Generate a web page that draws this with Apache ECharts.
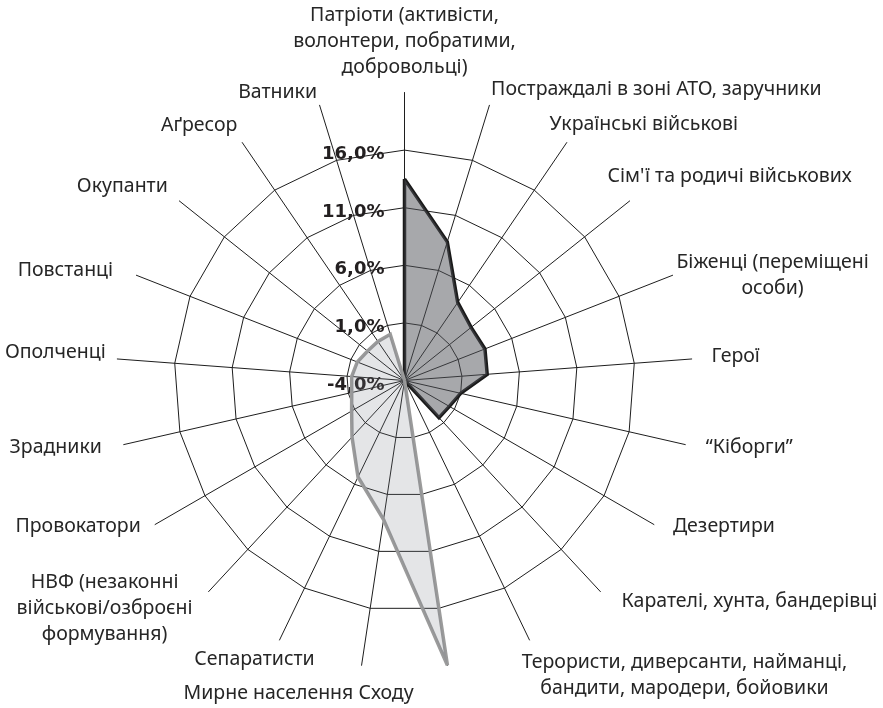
<!DOCTYPE html>
<html>
<head>
<meta charset="utf-8">
<script src="https://cdn.jsdelivr.net/npm/echarts@6/dist/echarts.min.js"></script>
<style>
html, body { margin: 0; padding: 0; background: #fff; }
#chart { width: 883px; height: 708px; }
</style>
</head>
<body>
<div id="chart"></div>
<script>
// categories, clockwise from the top axis
var categories = [
	'Патріоти (активісти,\nволонтери, побратими,\nдобровольці)',
	'Постраждалі в зоні АТО, заручники',
	'Українські військові',
	"Сім'ї та родичі військових",
	'Біженці (переміщені\nособи)',
	'Герої',
	'“Кіборги”',
	'Дезертири',
	'Карателі, хунта, бандерівці',
	'Терористи, диверсанти, найманці,\nбандити, мародери, бойовики',
	'',
	'Мирне населення Сходу',
	'Сепаратисти',
	'НВФ (незаконні\nвійськові/озброєні\nформування)',
	'Провокатори',
	'Зрадники',
	'Ополченці',
	'Повстанці',
	'Окупанти',
	'Аґресор',
	'Ватники'
];
// dark polygon (%), same order
var darkValues = [13.5, 8.6, 4.2, 3.4, 3.5, 3.2, 1.0, 0.5, 0.4, -4, -4, -4, -4, -4, -4, -4, -4, -4, -4, -4, -4];
// light polygon (%), same order
var lightValues = [-4, -4, -4, -4, -4, -4, -4, -4, -4, -4, 21, 8.2, 5.3, 2.7, 1.3, 0.7, 0.6, 0.4, 0.1, 0.1, 0.2];
var scaleMin = -4;
var scaleMax = 21;

// where each category name sits relative to the end of its axis (dx, dy)
var labelShift = [
	[0, -12], [167, -16], [77, -18], [100, -24], [100, 0], [44, -3], [64, 3],
	[70, 2], [149, 10], [155, 35], [0, 0], [-63, 28], [-25, 19], [-104, 17],
	[-77, 2], [-68, 3], [-62, -7], [-71, -5], [-57, -14], [-43, -17], [-42, -13]
];

var nameFont = {
	fontFamily: 'Noto Sans',
	fontSize: 19.5,
	lineHeight: 26,
	color: '#262626',
	align: 'center'
};

// echarts puts radar axes counter-clockwise, so reverse all but the first
function ccw(arr) {
	return [arr[0]].concat(arr.slice(1).reverse());
}

var indicator = ccw(categories.map(function (name, i) {
	var s = labelShift[i];
	var lineStyle = echarts.util.extend({
		padding: [Math.max(2 * s[1], 0), 0, Math.max(-2 * s[1], 0), 0]
	}, nameFont);
	var ind = {
		name: name.split('\n').map(function (line) { return '{t|' + line + '}'; }).join('\n'),
		min: scaleMin,
		max: scaleMax,
		nameTextStyle: {
			align: 'center',
			padding: [0, Math.max(-2 * s[0], 0), 0, Math.max(2 * s[0], 0)],
			rich: { t: lineStyle }
		}
	};
	if (name === '') ind.name = '';
	if (i === 0) {
		ind.axisLabel = { show: true };
	}
	return ind;
}));

var chart = echarts.init(document.getElementById('chart'), null, { renderer: 'canvas' });
var option = {
	backgroundColor: '#fff',
	animation: false,
	radar: {
		center: [404.5, 380.5],
		radius: 288,
		startAngle: 90,
		shape: 'polygon',
		splitNumber: 5,
		axisNameGap: 0,
		indicator: indicator,
		axisName: {
			color: '#262626',
			fontFamily: 'Noto Sans',
			fontSize: 19.5,
			lineHeight: 26
		},
		axisLine: {
			lineStyle: { color: '#1e1e1e', width: 1 }
		},
		axisTick: { show: false },
		splitLine: {
			lineStyle: {
				color: ['#1e1e1e', '#1e1e1e', '#1e1e1e', '#1e1e1e', '#1e1e1e', 'rgba(0,0,0,0)'],
				width: 1
			}
		},
		splitArea: { show: false },
		axisLabel: {
			show: false,
			margin: 20,
			formatter: function (v) {
				if (v >= scaleMax) return '';
				return '{v|' + v.toFixed(1).replace('.', ',') + '%}';
			},
			rich: {
				v: {
					color: '#231f20',
					fontFamily: 'DejaVu Sans',
					fontWeight: 'bold',
					fontSize: 18,
					lineHeight: 22,
					padding: [9, 0, 0, 0]
				}
			}
		}
	},
	series: [{
		type: 'radar',
		symbol: 'none',
		data: [{
			name: 'dark',
			value: ccw(darkValues),
			lineStyle: { color: '#1a1a1a', width: 3.5, join: 'miter' },
			areaStyle: { color: 'rgba(80,82,88,0.5)', opacity: 1 }
		}, {
			name: 'light',
			value: ccw(lightValues),
			lineStyle: { color: '#9b9b9b', width: 3.5, join: 'miter', miterLimit: 2 },
			areaStyle: { color: 'rgba(120,125,135,0.2)', opacity: 1 }
		}]
	}]
};
chart.setOption(option);
</script>
</body>
</html>
